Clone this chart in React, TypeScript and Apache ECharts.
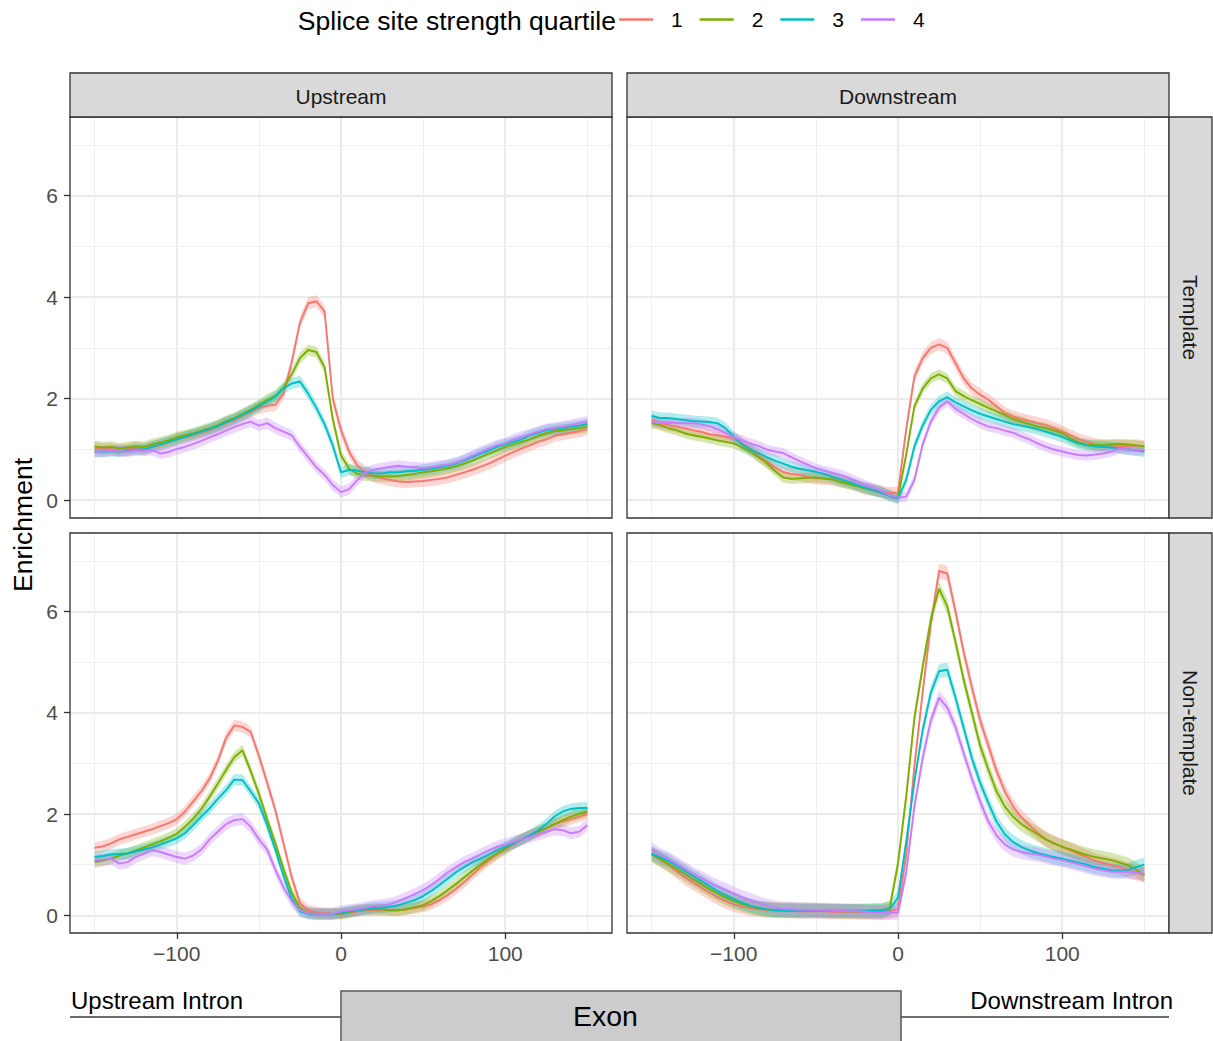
import React, { useEffect, useRef } from "react";
import * as echarts from "echarts";

// x positions (nt relative to splice site)
const positions = [
  -150, -145, -140, -135, -130, -125, -120, -115, -110, -105, -100, -95, -90, -85, -80, -75,
  -70, -65, -60, -55, -50, -45, -40, -35, -30, -25, -20, -15, -10, -5, 0, 5,
  10, 15, 20, 25, 30, 35, 40, 45, 50, 55, 60, 65, 70, 75, 80, 85,
  90, 95, 100, 105, 110, 115, 120, 125, 130, 135, 140, 145, 150,
];

const quartiles = ["1", "2", "3", "4"];
const quartileColors = ["#F8766D", "#7CAE00", "#00BFC4", "#C77CFF"];

const xTickValues = [-100, 0, 100];
const yTickValues = [0, 2, 4, 6];
const xMajorGrid = [-100, 0, 100];
const xMinorGrid = [-150, -50, 50, 150];
const yMajorGrid = [0, 2, 4, 6];
const yMinorGrid = [1, 3, 5, 7];

const columnLabels = ["Upstream", "Downstream"];
const rowLabels = ["Template", "Non-template"];

// ---- Upstream / Template ----
const upTemplateQ1 = [
  1.02, 1.0, 1.01, 0.98, 1.0, 1.03, 1.01, 1.05,
  1.08, 1.14, 1.2, 1.24, 1.28, 1.33, 1.38, 1.45,
  1.52, 1.58, 1.66, 1.74, 1.82, 1.86, 1.88, 2.1,
  2.72, 3.5, 3.88, 3.92, 3.72, 2.0, 1.38, 0.95,
  0.68, 0.55, 0.47, 0.43, 0.4, 0.37, 0.36, 0.37,
  0.38, 0.4, 0.42, 0.45, 0.5, 0.55, 0.6, 0.66,
  0.72, 0.8, 0.88, 0.95, 1.02, 1.08, 1.15, 1.2,
  1.27, 1.3, 1.33, 1.36, 1.4,
];
const upTemplateQ2 = [
  1.06, 1.04, 1.05, 1.02, 1.04, 1.06, 1.05, 1.1,
  1.14, 1.18, 1.24, 1.28, 1.32, 1.37, 1.42, 1.48,
  1.56, 1.62, 1.7, 1.78, 1.88, 1.98, 2.06, 2.22,
  2.48, 2.8, 2.96, 2.92, 2.62, 1.6, 0.88, 0.62,
  0.52, 0.49, 0.48, 0.47, 0.47, 0.48, 0.5, 0.52,
  0.55, 0.57, 0.6, 0.63, 0.67, 0.72, 0.78, 0.85,
  0.92, 0.98, 1.05, 1.1, 1.15, 1.2, 1.27, 1.32,
  1.36, 1.38, 1.4, 1.42, 1.45,
];
const upTemplateQ3 = [
  0.96, 0.95, 0.97, 0.96, 0.98, 1.0, 1.0, 1.05,
  1.1, 1.15, 1.2, 1.25, 1.3, 1.35, 1.4, 1.46,
  1.54, 1.6, 1.68, 1.76, 1.85, 1.94, 2.04, 2.2,
  2.3, 2.34, 2.1, 1.82, 1.5, 1.08, 0.55, 0.6,
  0.58, 0.55, 0.53, 0.53, 0.55, 0.55, 0.57, 0.58,
  0.6, 0.62, 0.65, 0.68, 0.72, 0.78, 0.85, 0.92,
  0.98, 1.05, 1.1, 1.15, 1.2, 1.28, 1.33, 1.38,
  1.4, 1.42, 1.45, 1.47, 1.5,
];
const upTemplateQ4 = [
  0.95, 0.96, 0.98, 0.97, 0.96, 0.98, 0.98, 0.99,
  0.92, 0.95, 1.01, 1.05, 1.11, 1.17, 1.24, 1.3,
  1.37, 1.44, 1.5, 1.55, 1.47, 1.52, 1.42, 1.35,
  1.28, 1.05, 0.85, 0.65, 0.5, 0.3, 0.16, 0.22,
  0.4, 0.55, 0.6, 0.63, 0.66, 0.68, 0.66, 0.65,
  0.63, 0.65, 0.68, 0.7, 0.74, 0.8, 0.88, 0.95,
  1.02, 1.08, 1.12, 1.2, 1.25, 1.3, 1.35, 1.4,
  1.42, 1.45, 1.48, 1.52, 1.55,
];

// ---- Downstream / Template ----
const downTemplateQ1 = [
  1.58, 1.52, 1.48, 1.45, 1.42, 1.38, 1.35, 1.3,
  1.28, 1.25, 1.22, 1.12, 1.02, 0.88, 0.76, 0.65,
  0.56, 0.52, 0.5, 0.46, 0.43, 0.42, 0.41, 0.37,
  0.33, 0.28, 0.23, 0.2, 0.17, 0.14, 0.15, 1.4,
  2.44, 2.8, 3.0, 3.07, 3.0, 2.7, 2.4, 2.2,
  2.08, 1.98, 1.85, 1.72, 1.65, 1.6, 1.56, 1.52,
  1.48, 1.42, 1.35, 1.28, 1.2, 1.15, 1.1, 1.08,
  1.07, 1.06, 1.06, 1.08, 1.06,
];
const downTemplateQ2 = [
  1.52, 1.48, 1.42, 1.38, 1.32, 1.28, 1.25, 1.22,
  1.18, 1.15, 1.12, 1.04, 0.96, 0.85, 0.73, 0.58,
  0.45, 0.42, 0.43, 0.44, 0.45, 0.43, 0.41, 0.36,
  0.32, 0.28, 0.23, 0.19, 0.15, 0.1, 0.05, 0.9,
  1.85, 2.2, 2.4, 2.48, 2.4, 2.15, 2.05, 1.97,
  1.9, 1.82, 1.75, 1.68, 1.6, 1.55, 1.5, 1.45,
  1.42, 1.37, 1.32, 1.22, 1.14, 1.1, 1.09, 1.09,
  1.1, 1.11, 1.1, 1.08, 1.06,
];
const downTemplateQ3 = [
  1.66, 1.62, 1.62, 1.6, 1.58, 1.56, 1.55, 1.54,
  1.52, 1.42, 1.25, 1.1, 1.0, 0.93, 0.85, 0.78,
  0.72, 0.66, 0.62, 0.59, 0.56, 0.52, 0.46, 0.41,
  0.36, 0.3, 0.25, 0.2, 0.15, 0.08, 0.03, 0.4,
  1.06, 1.47, 1.78, 1.95, 2.03, 1.93, 1.85, 1.77,
  1.7, 1.65, 1.6, 1.55, 1.5, 1.47, 1.44, 1.4,
  1.35, 1.3, 1.25, 1.18, 1.12, 1.08, 1.06, 1.05,
  1.04, 1.02, 1.0, 0.98, 0.96,
];
const downTemplateQ4 = [
  1.55, 1.52, 1.53, 1.52, 1.52, 1.52, 1.5, 1.46,
  1.4, 1.32, 1.24, 1.18, 1.12, 1.07, 1.0, 0.96,
  0.93, 0.85, 0.77, 0.7, 0.63, 0.58, 0.54, 0.5,
  0.44, 0.37, 0.3, 0.24, 0.18, 0.1, 0.05, 0.07,
  0.4, 1.1, 1.55, 1.82, 1.95, 1.8, 1.7, 1.6,
  1.52, 1.45, 1.42, 1.37, 1.33, 1.26, 1.2, 1.12,
  1.05, 1.0, 0.96, 0.92, 0.89, 0.88, 0.9, 0.92,
  0.96, 1.02, 1.0, 0.98, 0.99,
];

// ---- Upstream / Non-template ----
const upNontemplateQ1 = [
  1.33, 1.36, 1.42, 1.5, 1.55, 1.6, 1.65, 1.7,
  1.76, 1.82, 1.9, 2.05, 2.25, 2.45, 2.7, 3.05,
  3.5, 3.75, 3.72, 3.62, 3.15, 2.62, 2.08, 1.42,
  0.75, 0.24, 0.1, 0.06, 0.04, 0.03, 0.03, 0.05,
  0.08, 0.1, 0.1, 0.1, 0.1, 0.1, 0.12, 0.14,
  0.17, 0.22, 0.3, 0.4, 0.52, 0.65, 0.8, 0.95,
  1.08, 1.2, 1.3, 1.4, 1.5, 1.58, 1.65, 1.72,
  1.8, 1.85, 1.9, 1.95, 2.0,
];
const upNontemplateQ2 = [
  1.05, 1.08, 1.12, 1.18, 1.22, 1.28, 1.34, 1.4,
  1.46, 1.53, 1.61, 1.75, 1.91, 2.1, 2.34, 2.6,
  2.87, 3.12, 3.26, 2.85, 2.4, 1.9, 1.42, 0.92,
  0.45, 0.14, 0.05, 0.03, 0.03, 0.03, 0.03, 0.06,
  0.1, 0.12, 0.12, 0.12, 0.1, 0.1, 0.12, 0.16,
  0.2, 0.28, 0.38, 0.5, 0.62, 0.75, 0.88, 1.0,
  1.12, 1.22, 1.32, 1.42, 1.5, 1.58, 1.65, 1.72,
  1.8, 1.88, 1.95, 2.0, 2.05,
];
const upNontemplateQ3 = [
  1.15, 1.17, 1.2, 1.21, 1.22, 1.26, 1.3, 1.34,
  1.4, 1.46, 1.52, 1.62, 1.78, 1.95, 2.11, 2.3,
  2.47, 2.68, 2.67, 2.45, 2.21, 1.78, 1.3, 0.78,
  0.33, 0.08, 0.03, 0.02, 0.02, 0.02, 0.05, 0.08,
  0.1, 0.12, 0.15, 0.15, 0.17, 0.2, 0.25, 0.3,
  0.38, 0.48, 0.6, 0.72, 0.85, 0.95, 1.05, 1.12,
  1.2, 1.28, 1.35, 1.42, 1.5, 1.58, 1.68, 1.8,
  1.95, 2.05, 2.1, 2.12, 2.12,
];
const upNontemplateQ4 = [
  1.09, 1.1, 1.12, 1.02, 1.05, 1.15, 1.22, 1.29,
  1.25, 1.2, 1.15, 1.12, 1.18, 1.3, 1.5, 1.65,
  1.8, 1.88, 1.9, 1.75, 1.5, 1.3, 0.9, 0.55,
  0.28, 0.1, 0.04, 0.03, 0.03, 0.03, 0.08, 0.1,
  0.12, 0.15, 0.18, 0.2, 0.22, 0.28, 0.35, 0.42,
  0.5, 0.6, 0.72, 0.85, 0.95, 1.05, 1.12, 1.2,
  1.28, 1.35, 1.4, 1.45, 1.5, 1.55, 1.6, 1.65,
  1.7, 1.68, 1.62, 1.65, 1.78,
];

// ---- Downstream / Non-template ----
const downNontemplateQ1 = [
  1.2, 1.1, 1.0, 0.88, 0.75, 0.65, 0.55, 0.45,
  0.36, 0.28, 0.22, 0.17, 0.14, 0.12, 0.1, 0.1,
  0.09, 0.09, 0.08, 0.08, 0.08, 0.08, 0.07, 0.07,
  0.07, 0.06, 0.06, 0.06, 0.06, 0.08, 0.12, 1.2,
  2.95, 4.4, 5.75, 6.8, 6.75, 6.0, 5.2, 4.5,
  3.85, 3.35, 2.85, 2.45, 2.15, 1.94, 1.78, 1.63,
  1.5, 1.42, 1.35, 1.28, 1.21, 1.15, 1.08, 1.03,
  0.99, 0.95, 0.89, 0.84, 0.8,
];
const downNontemplateQ2 = [
  1.2, 1.12, 1.02, 0.92, 0.82, 0.72, 0.62, 0.52,
  0.43, 0.35, 0.28, 0.22, 0.17, 0.14, 0.12, 0.1,
  0.1, 0.1, 0.1, 0.1, 0.1, 0.09, 0.09, 0.08,
  0.08, 0.08, 0.08, 0.08, 0.08, 0.15, 1.02, 2.35,
  3.9, 4.9, 5.85, 6.45, 6.1, 5.4, 4.65, 4.0,
  3.35, 2.88, 2.45, 2.15, 1.95, 1.8, 1.7, 1.6,
  1.5, 1.42, 1.35, 1.3, 1.24, 1.19, 1.15, 1.12,
  1.09, 1.04, 0.99, 0.9, 0.79,
];
const downNontemplateQ3 = [
  1.22, 1.15, 1.08, 0.98, 0.88, 0.78, 0.68, 0.58,
  0.48, 0.4, 0.32, 0.25, 0.19, 0.15, 0.12, 0.1,
  0.1, 0.09, 0.09, 0.09, 0.09, 0.09, 0.09, 0.09,
  0.09, 0.09, 0.09, 0.1, 0.1, 0.12, 0.35, 1.45,
  2.65, 3.65, 4.4, 4.82, 4.85, 4.3, 3.7, 3.1,
  2.62, 2.22, 1.85, 1.6, 1.45, 1.35, 1.28, 1.23,
  1.19, 1.15, 1.12, 1.08, 1.04, 1.0, 0.95, 0.92,
  0.89, 0.88, 0.89, 0.95, 1.0,
];
const downNontemplateQ4 = [
  1.3, 1.2, 1.12, 1.02, 0.92, 0.82, 0.74, 0.65,
  0.57, 0.5, 0.43, 0.36, 0.3, 0.24, 0.19, 0.15,
  0.13, 0.12, 0.11, 0.11, 0.1, 0.1, 0.09, 0.09,
  0.08, 0.08, 0.07, 0.06, 0.05, 0.05, 0.05, 0.85,
  2.15, 3.1, 3.85, 4.3, 4.1, 3.72, 3.2, 2.7,
  2.25, 1.85, 1.58, 1.4, 1.3, 1.25, 1.22, 1.2,
  1.16, 1.12, 1.09, 1.05, 1.01, 0.96, 0.92, 0.89,
  0.86, 0.86, 0.86, 0.84, 0.82,
];

// ribbon half-widths (confidence band) per quartile, per panel
const upTemplateBand = [0.12, 0.11, 0.11, 0.11];
const downTemplateBand = [0.12, 0.1, 0.11, 0.1];
const upNontemplateBand = [0.11, 0.11, 0.11, 0.12];
const downNontemplateBand = [0.15, 0.15, 0.14, 0.14];

const FONT = "'Liberation Sans', Arial, Helvetica, sans-serif";

const hexToRgba = (hex: string, a: number) => {
  const n = parseInt(hex.slice(1), 16);
  return `rgba(${(n >> 16) & 255},${(n >> 8) & 255},${n & 255},${a})`;
};

const fmtMinus = (v: number) => (v < 0 ? "\u2212" + Math.abs(v) : String(v));

export default function App() {
  const ref = useRef<HTMLDivElement>(null);

  useEffect(() => {
    document.body.style.margin = "0";
    if (!ref.current) return;
    const chart = echarts.init(ref.current, null, { renderer: "svg" });

    const panels = [
      { series: [upTemplateQ1, upTemplateQ2, upTemplateQ3, upTemplateQ4], band: upTemplateBand, left: 70, top: 117, width: 542, height: 401, showX: false, showY: true },
      { series: [downTemplateQ1, downTemplateQ2, downTemplateQ3, downTemplateQ4], band: downTemplateBand, left: 627, top: 117, width: 542, height: 401, showX: false, showY: false },
      { series: [upNontemplateQ1, upNontemplateQ2, upNontemplateQ3, upNontemplateQ4], band: upNontemplateBand, left: 70, top: 533, width: 542, height: 400, showX: true, showY: true },
      { series: [downNontemplateQ1, downNontemplateQ2, downNontemplateQ3, downNontemplateQ4], band: downNontemplateBand, left: 627, top: 533, width: 542, height: 400, showX: true, showY: false },
    ];

    const grid = panels.map((p) => ({
      left: p.left,
      top: p.top,
      width: p.width,
      height: p.height,
      show: false,
      containLabel: false,
      outerBoundsMode: "none",
    }));

    const xAxis = panels.map((p, i) => ({
      type: "value",
      gridIndex: i,
      min: -165,
      max: 165,
      axisLine: { show: false, onZero: false },
      splitLine: { show: false },
      axisTick: {
        show: p.showX,
        customValues: xTickValues,
        length: 6,
        lineStyle: { color: "#333333", width: 1.3 },
      },
      axisLabel: {
        show: p.showX,
        customValues: xTickValues,
        formatter: fmtMinus,
        color: "#4d4d4d",
        fontSize: 21,
        fontFamily: FONT,
        margin: 10,
      },
    }));

    const yAxis = panels.map((p, i) => ({
      type: "value",
      gridIndex: i,
      min: -0.35,
      max: 7.55,
      axisLine: { show: false, onZero: false },
      splitLine: { show: false },
      axisTick: {
        show: p.showY,
        customValues: yTickValues,
        length: 6,
        lineStyle: { color: "#333333", width: 1.3 },
      },
      axisLabel: {
        show: p.showY,
        customValues: yTickValues,
        color: "#4d4d4d",
        fontSize: 21,
        fontFamily: FONT,
        margin: 12,
      },
    }));

    const series: any[] = [];
    panels.forEach((p, i) => {
      // grid lines (drawn under the data)
      series.push({
        type: "line",
        xAxisIndex: i,
        yAxisIndex: i,
        data: [],
        silent: true,
        markLine: {
          silent: true,
          symbol: "none",
          z: 1,
          animation: false,
          label: { show: false },
          emphasis: { disabled: true },
          lineStyle: { color: "#ebebeb", type: "solid" },
          data: [
            ...xMajorGrid.map((v) => ({ xAxis: v, lineStyle: { width: 2, color: "#ebebeb", type: "solid" } })),
            ...xMinorGrid.map((v) => ({ xAxis: v, lineStyle: { width: 1, color: "#efefef", type: "solid" } })),
            ...yMajorGrid.map((v) => ({ yAxis: v, lineStyle: { width: 2, color: "#ebebeb", type: "solid" } })),
            ...yMinorGrid.map((v) => ({ yAxis: v, lineStyle: { width: 1, color: "#efefef", type: "solid" } })),
          ],
        },
      });
      // ribbons
      p.series.forEach((vals, q) => {
        const se = p.band[q];
        const fill = hexToRgba(quartileColors[q], 0.3);
        series.push({
          type: "custom",
          name: "band-" + i + "-" + q,
          xAxisIndex: i,
          yAxisIndex: i,
          z: 2,
          silent: true,
          data: positions.map((x, k) => [x, vals[k] - se, vals[k] + se]),
          encode: { x: 0, y: [1, 2] },
          renderItem: (params: any, api: any) => {
            if (params.dataIndex !== 0) return null;
            const pts: number[][] = [];
            for (let k = 0; k < positions.length; k++) pts.push(api.coord([positions[k], vals[k] + se]));
            for (let k = positions.length - 1; k >= 0; k--) pts.push(api.coord([positions[k], vals[k] - se]));
            return { type: "polygon", shape: { points: pts }, style: { fill }, silent: true };
          },
        });
      });
      // lines
      p.series.forEach((vals, q) => {
        series.push({
          type: "line",
          name: quartiles[q],
          xAxisIndex: i,
          yAxisIndex: i,
          z: 3,
          silent: true,
          showSymbol: false,
          symbol: "none",
          color: quartileColors[q],
          lineStyle: { width: 1.9, color: quartileColors[q] },
          emphasis: { disabled: true },
          data: positions.map((x, k) => [x, vals[k]]),
        });
      });
    });

    const stripStyle = { fill: "#d9d9d9", stroke: "#333333", lineWidth: 1.3 };
    const stripText = { fontSize: 21, fontFamily: FONT, fill: "#1a1a1a", align: "center", verticalAlign: "middle" };

    const graphic: any[] = [
      // legend title
      {
        type: "text",
        x: 616,
        y: 21,
        z: 100,
        style: { text: "Splice site strength quartile", fontSize: 26.5, fontFamily: FONT, fill: "#000", align: "right", verticalAlign: "middle" },
      },
      // y axis title
      {
        type: "text",
        x: 23,
        y: 525,
        rotation: Math.PI / 2,
        z: 100,
        style: { text: "Enrichment", fontSize: 26.5, fontFamily: FONT, fill: "#000", align: "center", verticalAlign: "middle" },
      },
      // panel borders
      ...panels.map((p) => ({
        type: "rect",
        z: 100,
        silent: true,
        shape: { x: p.left, y: p.top, width: p.width, height: p.height },
        style: { fill: "transparent", stroke: "#333333", lineWidth: 1.3 },
      })),
      // column strips
      { type: "rect", z: 100, shape: { x: 70, y: 73, width: 542, height: 44 }, style: stripStyle },
      { type: "rect", z: 100, shape: { x: 627, y: 73, width: 542, height: 44 }, style: stripStyle },
      { type: "text", z: 101, x: 341, y: 96, style: { ...stripText, text: columnLabels[0] } },
      { type: "text", z: 101, x: 898, y: 96, style: { ...stripText, text: columnLabels[1] } },
      // row strips
      { type: "rect", z: 100, shape: { x: 1169, y: 117, width: 43, height: 401 }, style: stripStyle },
      { type: "rect", z: 100, shape: { x: 1169, y: 533, width: 43, height: 400 }, style: stripStyle },
      { type: "text", z: 101, x: 1190, y: 317.5, rotation: -Math.PI / 2, style: { ...stripText, text: rowLabels[0] } },
      { type: "text", z: 101, x: 1190, y: 733, rotation: -Math.PI / 2, style: { ...stripText, text: rowLabels[1] } },
      // gene-structure annotation
      { type: "line", z: 100, shape: { x1: 70, y1: 1017, x2: 341, y2: 1017 }, style: { stroke: "#6e6e6e", lineWidth: 2 } },
      { type: "line", z: 100, shape: { x1: 901, y1: 1017, x2: 1169, y2: 1017 }, style: { stroke: "#6e6e6e", lineWidth: 2 } },
      { type: "rect", z: 100, shape: { x: 341, y: 991, width: 560, height: 60 }, style: { fill: "#cccccc", stroke: "#5a5a5a", lineWidth: 1.5 } },
      { type: "text", z: 101, x: 71, y: 1000, style: { text: "Upstream Intron", fontSize: 24, fontFamily: FONT, fill: "#000", align: "left", verticalAlign: "middle" } },
      { type: "text", z: 101, x: 1173, y: 1000, style: { text: "Downstream Intron", fontSize: 24, fontFamily: FONT, fill: "#000", align: "right", verticalAlign: "middle" } },
      { type: "text", z: 101, x: 573, y: 1016, style: { text: "Exon", fontSize: 28.5, fontFamily: FONT, fill: "#000", align: "left", verticalAlign: "middle" } },
    ];

    chart.setOption({
      animation: false,
      backgroundColor: "#ffffff",
      textStyle: { fontFamily: FONT },
      legend: {
        data: quartiles,
        left: 614,
        top: 4,
        padding: 5,
        icon: "rect",
        itemWidth: 34,
        itemHeight: 2.5,
        itemGap: 17,
        selectedMode: false,
        textStyle: { fontSize: 21, fontFamily: FONT, color: "#000", padding: [0, 0, 0, 13] },
      },
      grid,
      xAxis,
      yAxis,
      series,
      graphic,
    } as any);

    return () => chart.dispose();
  }, []);

  return <div ref={ref} style={{ width: 1213, height: 1041 }} />;
}
